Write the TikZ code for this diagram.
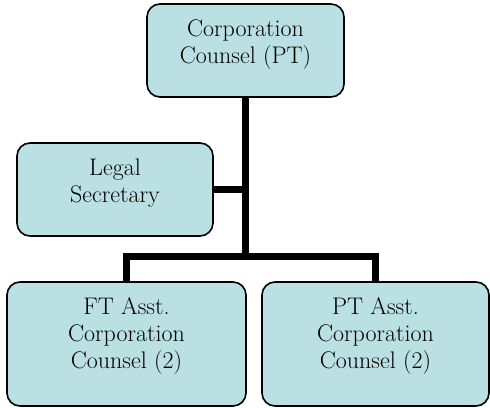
\documentclass[tikz,border=0pt]{standalone}
\definecolor{boxfill}{RGB}{186,224,227}
\tikzset{
  unitbox/.style={draw, line width=1.6pt, rounded corners=13pt, fill=boxfill,
    align=center, inner sep=0pt, font=\fontsize{24}{27}\selectfont},
  link/.style={line width=7pt}
}
\begin{document}
\begin{tikzpicture}[x=1pt, y=1pt]
    \useasboundingbox (0,0) rectangle (490,407);
    % 上级
    \node[unitbox, minimum width=197, minimum height=93] (cc) at (245.5,356.5) {Corporation\\Counsel (PT)\\[-10pt]};
    % 秘书
    \node[unitbox, minimum width=196, minimum height=93] (sec) at (115,217.5) {Legal\\Secretary\\[-10pt]};
    % 下级
    \node[unitbox, minimum width=239, minimum height=124] (ftac) at (126.5,63) {FT Asst.\\Corporation\\Counsel (2)\\[-6pt]};
    \node[unitbox, minimum width=227, minimum height=124] (ptac) at (375.5,63) {PT Asst.\\Corporation\\Counsel (2)\\[-6pt]};
    % 连线
    \coordinate (fork) at (cc.south |- 0,150.5);
    \draw[link] (cc.south) -- (fork);
    \draw[link] (sec.east) -- (sec.east -| cc.south);
    \draw[link] (ftac.north) |- (fork) -| (ptac.north);
\end{tikzpicture}
\end{document}
